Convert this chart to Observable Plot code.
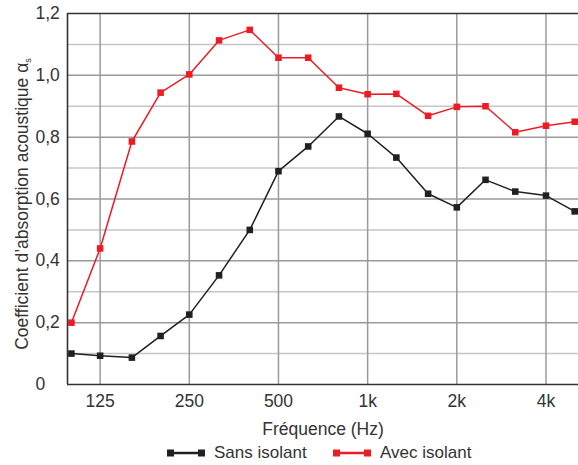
<!DOCTYPE html>
<html>
<head>
<meta charset="utf-8">
<script src="https://cdn.jsdelivr.net/npm/d3@7"></script>
<script src="https://cdn.jsdelivr.net/npm/@observablehq/plot@0.6"></script>
<style>
  body { margin: 0; background: #fff; font-family: "Liberation Sans", Arial, sans-serif; }
  #legend { position: relative; width: 578px; height: 25px; font-size: 17px; color: #333; }
  #legend .item { position: absolute; top: 0; height: 25px; display: flex; align-items: center; }
  #legend svg { display: block; }
</style>
</head>
<body>
<div id="chart"></div>
<div id="legend"></div>
<script>
const freqs = [100, 125, 160, 200, 250, 315, 400, 500, 630, 800, 1000, 1250, 1600, 2000, 2500, 3150, 4000, 5000];
const sansIsolant = [0.10, 0.093, 0.087, 0.157, 0.226, 0.353, 0.50, 0.69, 0.77, 0.867, 0.811, 0.734, 0.617, 0.573, 0.662, 0.624, 0.611, 0.56];
const avecIsolant = [0.20, 0.44, 0.786, 0.944, 1.003, 1.113, 1.147, 1.057, 1.057, 0.96, 0.939, 0.94, 0.869, 0.898, 0.90, 0.816, 0.837, 0.85];
const seriesNames = ["Sans isolant", "Avec isolant"];
const seriesColors = ["#231f20", "#ed1c24"];
const xTicks = [125, 250, 500, 1000, 2000, 4000];
const xTickLabels = ["125", "250", "500", "1k", "2k", "4k"];
const yTicks = [0, 0.2, 0.4, 0.6, 0.8, 1.0, 1.2];
const yTickLabels = ["0", "0,2", "0,4", "0,6", "0,8", "1,0", "1,2"];
const yMajorGrid = [0.2, 0.4, 0.6, 0.8, 1.0];
const yMinorGrid = [0.1, 0.3, 0.5, 0.7, 0.9, 1.1];
const xDomain = [97, 5150];
const xTitle = "Fréquence (Hz)";
const yTitle = "Coefficient d\u2019absorption acoustique \u03b1";
const yTitleSub = "s";

const seriesValues = [sansIsolant, avecIsolant];
const data = seriesNames.flatMap((name, s) =>
  freqs.map((f, i) => ({freq: f, value: seriesValues[s][i], serie: name}))
);

const font = "'Liberation Sans', Arial, sans-serif";
const plot = Plot.plot({
  width: 578,
  height: 440,
  marginTop: 13,
  marginBottom: 56,
  marginLeft: 67,
  marginRight: 0,
  style: {fontFamily: font, fontSize: "17.5px", color: "#333", background: "#fff", overflow: "visible"},
  x: {type: "log", domain: xDomain, axis: null},
  y: {domain: [0, 1.2], axis: null},
  color: {domain: seriesNames, range: seriesColors},
  marks: [
    Plot.ruleY(yMinorGrid, {stroke: "#c6c6c6", strokeWidth: 1.5}),
    Plot.ruleY(yMajorGrid, {stroke: "#9a9a9a", strokeWidth: 1.5}),
    Plot.ruleX(xTicks, {stroke: "#9a9a9a", strokeWidth: 1.5}),
    Plot.ruleY([0, 1.2], {stroke: "#333", strokeWidth: 1.6}),
    Plot.ruleX([xDomain[0]], {stroke: "#333", strokeWidth: 1.6}),
    Plot.text(xTicks, {
      x: d => d, text: d => xTickLabels[xTicks.indexOf(d)],
      frameAnchor: "bottom", lineAnchor: "top", dy: 10, fill: "#333", fontSize: 17.5
    }),
    Plot.text([xTitle], {
      text: d => d, frameAnchor: "bottom", lineAnchor: "bottom", dy: 50, fill: "#333", fontSize: 17.5
    }),
    Plot.text(yTicks, {
      y: d => d, text: d => yTickLabels[yTicks.indexOf(d)],
      frameAnchor: "left", textAnchor: "start", dx: -32, fill: "#333", fontSize: 17.5
    }),
    Plot.line(data, {x: "freq", y: "value", z: "serie", stroke: "serie", strokeWidth: 1.5}),
    Plot.dot(data, {x: "freq", y: "value", fill: "serie", symbol: "square", r: 3.7})
  ]
});
document.getElementById("chart").appendChild(plot);

// Y-axis title with subscript
const svg = d3.select(plot);
const yl = svg.append("text")
  .attr("transform", "translate(28,204) rotate(-90)")
  .attr("text-anchor", "middle")
  .attr("font-family", font)
  .attr("font-size", "17.5px")
  .attr("fill", "#333");
yl.append("tspan").text(yTitle);
yl.append("tspan").attr("font-size", "9px").attr("dy", "3").text(yTitleSub);

// Legend
const legend = d3.select("#legend");
const legendPos = [{sw: 167, tx: 214}, {sw: 333, tx: 380}];
seriesNames.forEach((name, i) => {
  const item = legend.append("div").attr("class", "item").style("left", legendPos[i].sw + "px");
  const s = item.append("svg").attr("width", 38).attr("height", 10);
  s.append("line").attr("x1", 3).attr("x2", 35).attr("y1", 5).attr("y2", 5)
    .attr("stroke", seriesColors[i]).attr("stroke-width", 2.5);
  s.append("rect").attr("x", 0).attr("y", 1.5).attr("width", 7).attr("height", 7).attr("fill", seriesColors[i]);
  s.append("rect").attr("x", 31).attr("y", 1.5).attr("width", 7).attr("height", 7).attr("fill", seriesColors[i]);
  legend.append("div").attr("class", "item").style("left", legendPos[i].tx + "px").text(name);
});
</script>
</body>
</html>
